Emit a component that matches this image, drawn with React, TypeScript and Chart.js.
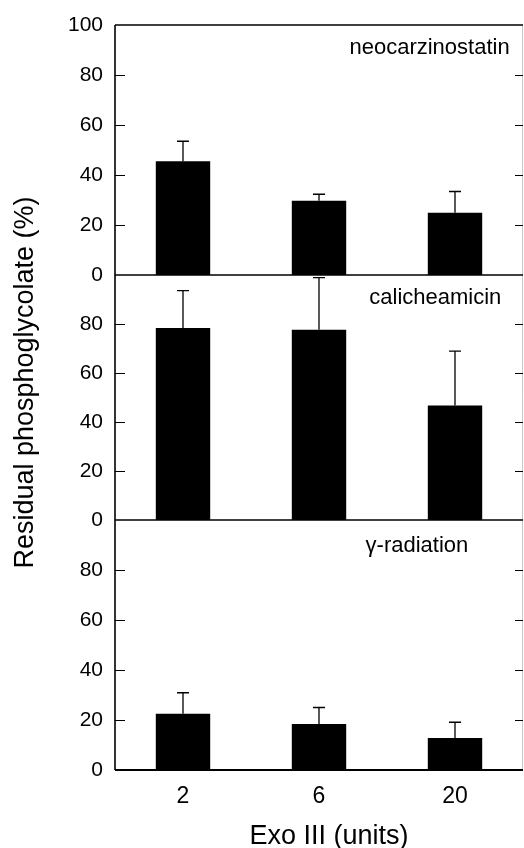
import React, { useEffect, useRef } from 'react';
import { Chart, registerables } from 'chart.js';

Chart.register(...registerables);

// ---- data ----
const categories = ['2', '6', '20'];
const panelNames = ['neocarzinostatin', 'calicheamicin', 'γ-radiation'];
const neocarzinostatinMeans = [45.5, 29.7, 24.9];
const neocarzinostatinErrors = [8.0, 2.6, 8.5];
const calicheamicinMeans = [78.4, 77.7, 46.7];
const calicheamicinErrors = [15.2, 21.2, 22.2];
const gammaMeans = [22.5, 18.4, 12.8];
const gammaErrors = [8.4, 6.6, 6.3];
const yTickValues = [0, 20, 40, 60, 80, 100];
const yTitle = 'Residual phosphoglycolate (%)';
const xTitle = 'Exo III (units)';

// ---- styling ----
const FONT = '"Liberation Sans", Arial, Helvetica, sans-serif';
const axisIds = ['yA', 'yB', 'yC'];
const panelMeans = [neocarzinostatinMeans, calicheamicinMeans, gammaMeans];
const panelErrors = [neocarzinostatinErrors, calicheamicinErrors, gammaErrors];
const labelAnchors = [
  { fx: 0.771, dy: 23 },
  { fx: 0.785, dy: 23 },
  { fx: 0.74, dy: 26 },
];

const decorPlugin = {
  id: 'decor',
  afterDatasetsDraw(chart: any) {
    const ctx = chart.ctx;
    ctx.save();
    ctx.strokeStyle = '#000';
    ctx.lineWidth = 1.3;
    chart.data.datasets.forEach((ds: any, i: number) => {
      const meta = chart.getDatasetMeta(i);
      const scale = chart.scales[ds.yAxisID];
      meta.data.forEach((el: any, j: number) => {
        const top = scale.getPixelForValue(panelMeans[i][j] + panelErrors[i][j]);
        ctx.beginPath();
        ctx.moveTo(el.x, el.y);
        ctx.lineTo(el.x, top);
        ctx.moveTo(el.x - 6, top);
        ctx.lineTo(el.x + 6, top);
        ctx.stroke();
      });
    });
    ctx.restore();
  },
  afterDraw(chart: any) {
    const ctx = chart.ctx;
    const { left, right, top, bottom } = chart.chartArea;
    ctx.save();
    // right border (faint)
    ctx.strokeStyle = '#c8c8c8';
    ctx.lineWidth = 1;
    ctx.beginPath();
    ctx.moveTo(right - 0.5, top);
    ctx.lineTo(right - 0.5, bottom);
    ctx.stroke();

    ctx.strokeStyle = '#000';
    // top border
    ctx.lineWidth = 1.5;
    ctx.beginPath();
    ctx.moveTo(left, top);
    ctx.lineTo(right, top);
    ctx.stroke();
    // dividers / baselines
    axisIds.forEach((id, k) => {
      const s = chart.scales[id];
      const y0 = s.getPixelForValue(0);
      ctx.lineWidth = k === axisIds.length - 1 ? 2 : 1.6;
      ctx.beginPath();
      ctx.moveTo(left, y0);
      ctx.lineTo(right, y0);
      ctx.stroke();
      // inward ticks
      ctx.lineWidth = 1;
      s.ticks.forEach((t: any) => {
        if (t.value <= 0 || t.value >= 100) return;
        const py = Math.round(s.getPixelForValue(t.value)) + 0.5;
        ctx.beginPath();
        ctx.moveTo(left, py);
        ctx.lineTo(left + 10, py);
        ctx.moveTo(right - 8, py);
        ctx.lineTo(right, py);
        ctx.stroke();
      });
      // panel label
      ctx.fillStyle = '#000';
      ctx.font = `22px ${FONT}`;
      ctx.textAlign = 'center';
      ctx.textBaseline = 'middle';
      ctx.fillText(panelNames[k], left + (right - left) * labelAnchors[k].fx, s.top + labelAnchors[k].dy);
    });
    // left axis line
    ctx.lineWidth = 1.6;
    ctx.beginPath();
    ctx.moveTo(left, top);
    ctx.lineTo(left, bottom);
    ctx.stroke();

    // titles
    ctx.fillStyle = '#000';
    ctx.font = `27px ${FONT}`;
    ctx.textAlign = 'center';
    ctx.textBaseline = 'alphabetic';
    ctx.fillText(xTitle, (left + right) / 2 + 10, chart.height - 4);
    ctx.translate(33, (top + bottom) / 2 - 15);
    ctx.rotate(-Math.PI / 2);
    ctx.fillText(yTitle, 0, 0);
    ctx.restore();
  },
};

function yAxis(isTop: boolean, weight: number, stackWeight: number) {
  return {
    type: 'linear',
    position: 'left',
    stack: 'panels',
    stackWeight,
    weight,
    min: 0,
    max: 100,
    afterBuildTicks: (s: any) => {
      s.ticks = yTickValues.map((v) => ({ value: v }));
    },
    afterFit: (s: any) => {
      s.width = 115;
    },
    grid: { display: false, drawTicks: false },
    border: { display: false },
    ticks: {
      color: '#000',
      padding: 12,
      autoSkip: false,
      font: { family: FONT, size: 21 },
      callback: (v: any) => (v === 100 && !isTop ? '' : String(v)),
    },
  };
}

export default function App() {
  const ref = useRef<HTMLCanvasElement | null>(null);
  useEffect(() => {
    document.body.style.margin = '0';
    const canvas = ref.current;
    if (!canvas) return;
    const chart = new Chart(canvas, {
      type: 'bar',
      data: {
        labels: categories,
        datasets: panelMeans.map((vals, i) => ({
          label: panelNames[i],
          data: vals,
          yAxisID: axisIds[i],
          backgroundColor: '#000',
          borderWidth: 0,
          barPercentage: 0.4,
          categoryPercentage: 1,
          grouped: false,
        })),
      },
      options: {
        responsive: false,
        animation: false,
        devicePixelRatio: 1,
        layout: { padding: { left: 0, right: 1, top: 25, bottom: 0 } },
        plugins: { legend: { display: false }, tooltip: { enabled: false }, title: { display: false } },
        scales: {
          x: {
            type: 'category',
            grid: { display: false, drawTicks: false },
            border: { display: false },
            afterFit: (s: any) => {
              s.height = 78;
            },
            ticks: {
              color: '#000',
              padding: 13,
              maxRotation: 0,
              autoSkip: false,
              font: { family: FONT, size: 23 },
            },
          },
          yA: yAxis(true, 3, 1),
          yB: yAxis(false, 2, 0.98),
          yC: yAxis(false, 1, 1),
        } as any,
      },
      plugins: [decorPlugin],
    } as any);
    return () => chart.destroy();
  }, []);
  return (
    <div style={{ width: 524, height: 848 }}>
      <canvas ref={ref} width={524} height={848} style={{ display: 'block' }} />
    </div>
  );
}
